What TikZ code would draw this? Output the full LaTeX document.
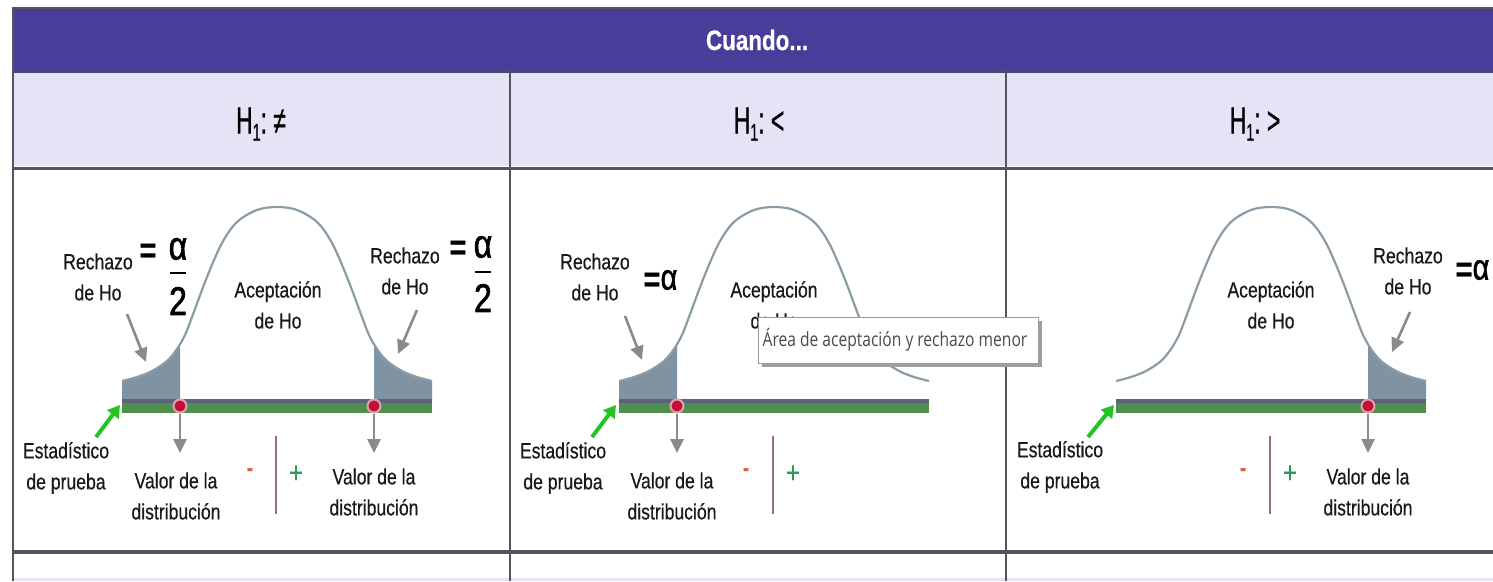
\documentclass[tikz,border=0pt]{standalone}
\usepackage{fontspec}
\setmainfont{Liberation Sans}[FakeStretch=0.8, FakeBold=0.5]
\newfontfamily\tipfont{Open Sans}[FakeStretch=0.8]
\newfontfamily\hfont{Liberation Sans}[FakeStretch=0.6, FakeBold=0.8]
\newfontfamily\symfont{Liberation Sans}[FakeStretch=0.8, FakeBold=1.5]
\usetikzlibrary{arrows.meta}
\definecolor{hdrpurple}{HTML}{483D98}
\definecolor{hdrlav}{HTML}{E4E4F6}
\definecolor{gridc}{HTML}{55555F}
\definecolor{curvec}{HTML}{8C9CA6}
\definecolor{shadec}{HTML}{7F93A3}
\definecolor{barg}{HTML}{4E8F4E}
\definecolor{barline}{HTML}{5A6478}
\definecolor{dotred}{HTML}{C0103A}
\definecolor{arrgrey}{HTML}{8A8A8A}
\definecolor{arrgreen}{HTML}{22C522}
\definecolor{minusc}{HTML}{E06040}
\definecolor{plusc}{HTML}{2A9A5A}
\definecolor{tipc}{HTML}{4A4A4A}
\newcommand\bellcurve{plot[smooth,tension=0.55] coordinates {(-155,381) (-140,377) (-125,371) (-110,361) (-100,349) (-92,335) (-85,317) (-70,277) (-55,243) (-40,222) (-20,210) (0,207) (20,210) (40,222) (55,243) (70,277) (85,317) (92,335) (100,349) (110,361) (125,371) (140,377) (155,381)}}
\tikzset{
  lbl/.style={font=\fontsize{22}{31}\selectfont, align=center, inner sep=0pt, text=black!90},
  bigsym/.style={font=\symfont\fontsize{40}{40}\selectfont, inner sep=0pt},
  eqsym/.style={font=\bfseries\fontsize{36}{36}\selectfont, inner sep=0pt},
  hlbl/.style={font=\hfont\fontsize{38}{38}\selectfont, inner sep=0pt},
  greyarrow/.style={draw=arrgrey, line width=2.6pt, -{Triangle[length=14pt,width=13pt]}},
  greenarrow/.style={draw=arrgreen, line width=4pt, -{Triangle[length=12pt,width=14pt]}},
  reddot/.style={circle, fill=dotred, draw=dotred!40, line width=2pt, minimum size=13pt, inner sep=0pt},
  bellline/.style={draw=curvec, line width=2.2pt},
  signline/.style={draw=arrgrey!80!purple, line width=1.2pt},
  minus/.style={text=minusc, font=\bfseries\fontsize{24}{24}\selectfont, inner sep=0pt},
  plus/.style={text=plusc, font=\fontsize{30}{30}\selectfont, inner sep=0pt},
  tip/.style={draw=gray!80, fill=white, line width=0.9pt, minimum width=280pt, minimum height=46pt, inner sep=0pt, font=\tipfont\fontsize{19.5}{19.5}\selectfont, text=tipc}
}
\begin{document}
\begin{tikzpicture}[x=1pt,y=-1pt]
\useasboundingbox (0,0) rectangle (1493,581);
% table frame
\fill[hdrpurple] (12,8) rectangle (1493,70);
\draw[gridc, line width=2pt] (12,8) -- (1493,8);
\fill[hdrlav] (12,73) rectangle (1493,166);
\fill[hdrlav] (12,578) rectangle (1493,581);
\draw[gridc!80!blue, line width=3pt] (12,71) -- (1493,71);
\draw[gridc, line width=3pt] (12,168) -- (1493,168);
\draw[gridc, line width=4pt] (12,552) -- (1493,552);
\draw[gridc, line width=2.2pt] (13,8) -- (13,581);
\draw[gridc, line width=2pt] (510,70) -- (510,581);
\draw[gridc, line width=2pt] (1006,70) -- (1006,581);
% headers
\node[font=\bfseries\fontsize{28}{28}\selectfont, text=white, inner sep=0pt] (cuando) at (757,40) {Cuando...};
\node[hlbl] (h1) at (261,124) {H\raisebox{-7pt}{\fontsize{24}{24}\selectfont 1}:\,≠};
\node[hlbl] (h2) at (759,124) {H\raisebox{-7pt}{\fontsize{24}{24}\selectfont 1}:\,<};
\node[hlbl] (h3) at (1255,124) {H\raisebox{-7pt}{\fontsize{24}{24}\selectfont 1}:\,>};

% ---------- column 1 ----------
\begin{scope}[shift={(277,0)}]
  \begin{scope}
    \clip (-160,150) rectangle (-97,401);
    \fill[shadec] \bellcurve -- (155,400) -- (-155,400) -- cycle;
  \end{scope}
  \begin{scope}
    \clip (97,150) rectangle (160,401);
    \fill[shadec] \bellcurve -- (155,400) -- (-155,400) -- cycle;
  \end{scope}
  \draw[bellline] \bellcurve;
  \fill[barline] (-155,399) rectangle (155,403);
  \fill[barg] (-155,403) rectangle (155,413);
  \node[reddot] (d1L) at (-97,406) {};
  \node[reddot] (d1R) at (97,406) {};
  \coordinate (e1L) at (-97,453);
  \coordinate (e1R) at (97,453);
  \draw[greyarrow] (d1L) -- (e1L);
  \draw[greyarrow] (d1R) -- (e1R);
  \node[lbl] (rej1L) at (-179,277) {Rechazo\\de Ho};
  \node[lbl] (rej1R) at (128,271) {Rechazo\\de Ho};
  \coordinate (s1L) at (-150,314); \coordinate (t1L) at (-131,362);
  \coordinate (s1R) at (140,310); \coordinate (t1R) at (121,354);
  \draw[greyarrow] (s1L) -- (t1L);
  \draw[greyarrow] (s1R) -- (t1R);
  \node[eqsym] (eq1L) at (-129,253) {=};
  \node[bigsym] (al1L) at (-99,249) {α};
  \draw[black, line width=2.8pt] (-107,273) -- (-91,273);
  \node[bigsym] (tw1L) at (-99,301) {2};
  \node[eqsym] (eq1R) at (181,250) {=};
  \node[bigsym] (al1R) at (206,247) {α};
  \draw[black, line width=2.8pt] (198,272) -- (214,272);
  \node[bigsym] (tw1R) at (206,298) {2};
  \node[lbl] (acc1) at (1,305) {Aceptación\\de Ho};
  \node[lbl] (est1) at (-211,468) {Estadístico\\de prueba};
  \coordinate (g1s) at (-181,437); \coordinate (g1e) at (-157,405);
  \draw[greenarrow] (g1s) -- (g1e);
  \node[lbl] (val1L) at (-101,496) {Valor de la\\distribución};
  \node[lbl] (val1R) at (97,492) {Valor de la\\distribución};
  \node[minus] (mi1) at (-27,472) {-};
  \coordinate (l1a) at (-1,436); \coordinate (l1b) at (-1,514);
  \draw[signline] (l1a) -- (l1b);
  \node[plus] (pl1) at (19,474) {+};
\end{scope}

% ---------- column 2 ----------
\begin{scope}[shift={(774,0)}]
  \begin{scope}
    \clip (-160,150) rectangle (-97,401);
    \fill[shadec] \bellcurve -- (155,400) -- (-155,400) -- cycle;
  \end{scope}
  \draw[bellline] \bellcurve;
  \fill[barline] (-155,399) rectangle (155,403);
  \fill[barg] (-155,403) rectangle (155,413);
  \node[reddot] (d2) at (-97,406) {};
  \coordinate (e2) at (-97,453);
  \draw[greyarrow] (d2) -- (e2);
  \node[lbl] (rej2) at (-179,277) {Rechazo\\de Ho};
  \coordinate (s2) at (-149,316); \coordinate (t2) at (-132,360);
  \draw[greyarrow] (s2) -- (t2);
  \node[eqsym] (eq2) at (-122,282) {=};
  \node[bigsym, font=\symfont\fontsize{36}{36}\selectfont] (al2) at (-105,280) {α};
  \node[lbl] (acc2) at (0,305) {Aceptación\\de Ho};
  \node[lbl] (est2) at (-211,468) {Estadístico\\de prueba};
  \coordinate (g2s) at (-182,437); \coordinate (g2e) at (-158,405);
  \draw[greenarrow] (g2s) -- (g2e);
  \node[lbl] (val2) at (-102,496) {Valor de la\\distribución};
  \node[minus] (mi2) at (-28,472) {-};
  \coordinate (l2a) at (-1,436); \coordinate (l2b) at (-1,514);
  \draw[signline] (l2a) -- (l2b);
  \node[plus] (pl2) at (19,474) {+};
\end{scope}
% tooltip
\node[tip, fill=gray!75, draw=none] (tipsh) at (902,344) {};
\node[tip] (tipbox) at (898,340) {\hspace*{-6pt}Área de aceptación y rechazo menor};

% ---------- column 3 ----------
\begin{scope}[shift={(1271,0)}]
  \begin{scope}
    \clip (97,150) rectangle (160,401);
    \fill[shadec] \bellcurve -- (155,400) -- (-155,400) -- cycle;
  \end{scope}
  \draw[bellline] \bellcurve;
  \fill[barline] (-155,399) rectangle (155,403);
  \fill[barg] (-155,403) rectangle (155,413);
  \node[reddot] (d3) at (97,406) {};
  \coordinate (e3) at (97,453);
  \draw[greyarrow] (d3) -- (e3);
  \node[lbl] (rej3) at (137,271) {Rechazo\\de Ho};
  \coordinate (s3) at (139,312); \coordinate (t3) at (121,352);
  \draw[greyarrow] (s3) -- (t3);
  \node[eqsym] (eq3) at (193,272) {=};
  \node[bigsym, font=\symfont\fontsize{36}{36}\selectfont] (al3) at (210,270) {α};
  \node[lbl] (acc3) at (0,305) {Aceptación\\de Ho};
  \node[lbl] (est3) at (-211,467) {Estadístico\\de prueba};
  \coordinate (g3s) at (-183,437); \coordinate (g3e) at (-157,405);
  \draw[greenarrow] (g3s) -- (g3e);
  \node[lbl] (val3) at (97,492) {Valor de la\\distribución};
  \node[minus] (mi3) at (-28,472) {-};
  \coordinate (l3a) at (-1,436); \coordinate (l3b) at (-1,514);
  \draw[signline] (l3a) -- (l3b);
  \node[plus] (pl3) at (19,474) {+};
\end{scope}
\end{tikzpicture}
\end{document}
